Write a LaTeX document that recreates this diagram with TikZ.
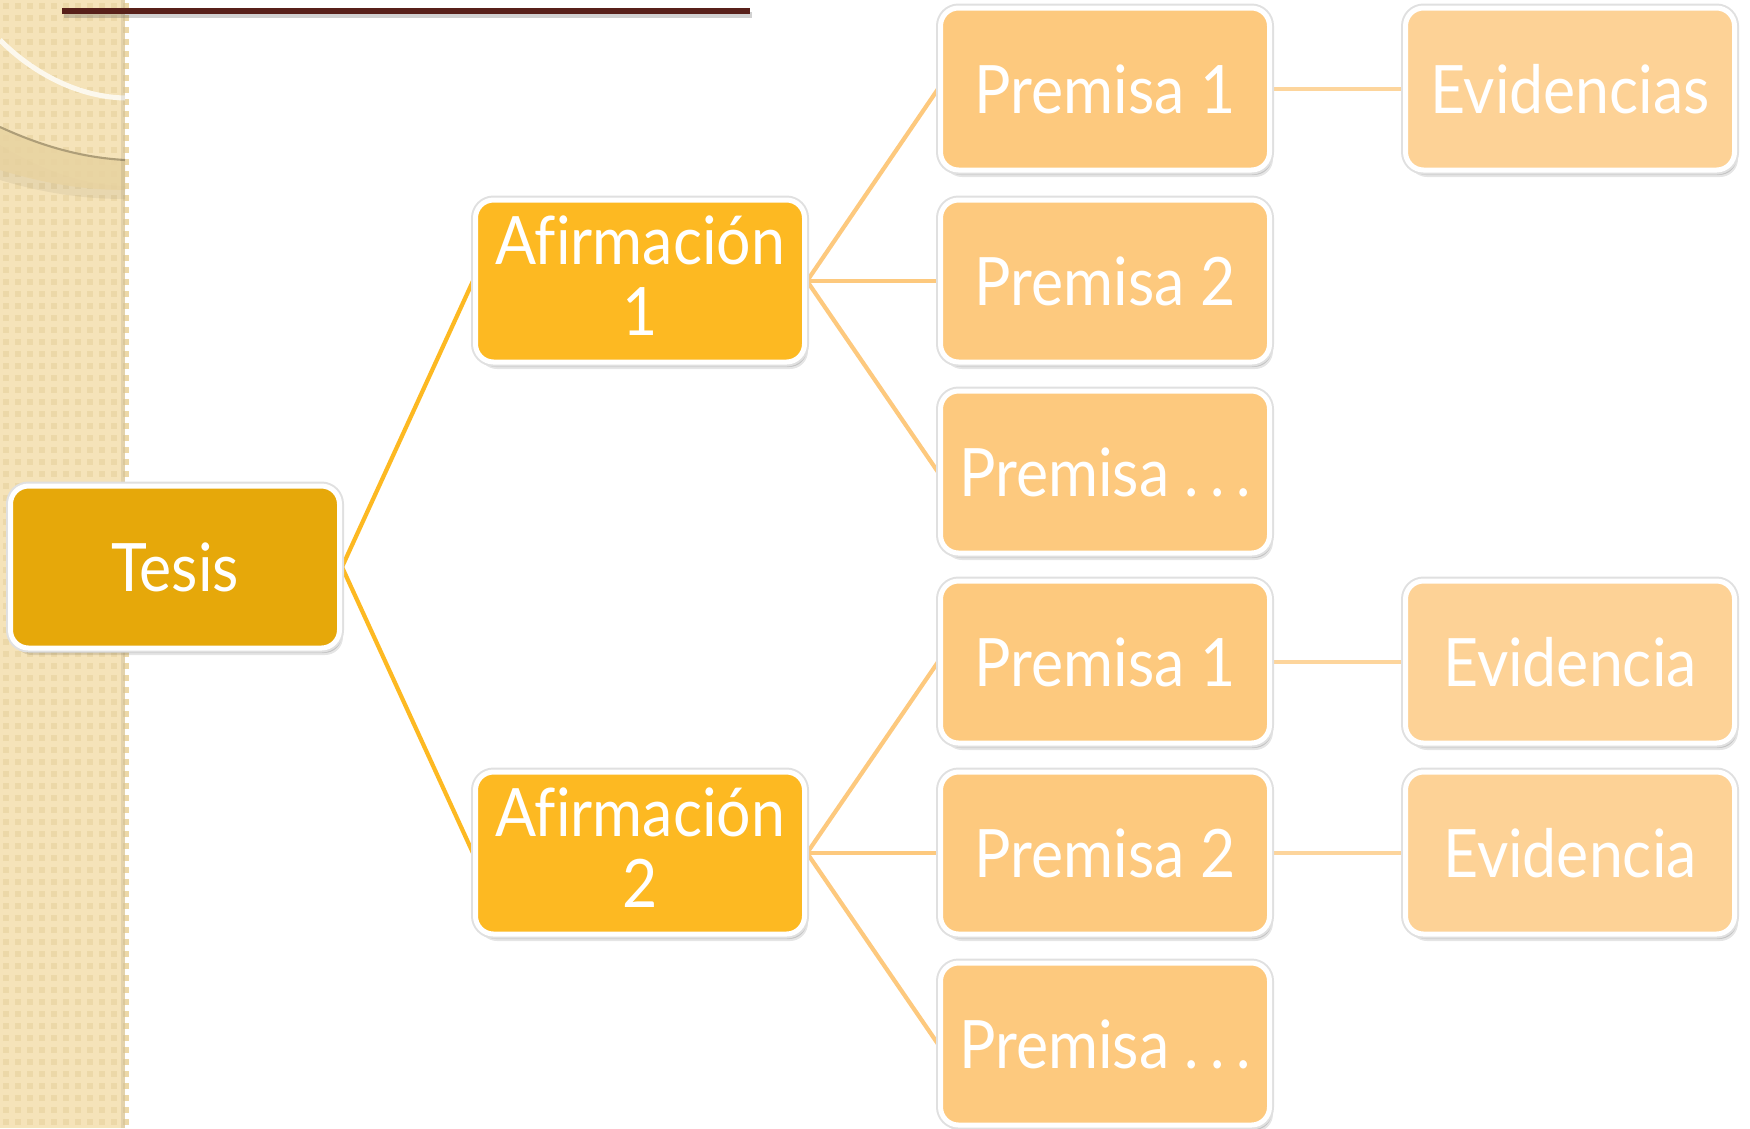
\documentclass[tikz,border=0pt]{standalone}
\usepackage{fontspec}
\newfontfamily\boxfont[FakeStretch=0.91,Ligatures=NoCommon]{Lato}
\usepackage{tikz}
\usepackage{xcolor}
\usetikzlibrary{shadows,backgrounds}

\definecolor{tesiscol}{HTML}{E6A80A}
\definecolor{afircol}{HTML}{FDB922}
\definecolor{premcol}{HTML}{FDC97E}
\definecolor{evidcol}{HTML}{FDD296}
\definecolor{evidline}{HTML}{FDD59C}
\definecolor{stripcol}{HTML}{F5E3B9}
\definecolor{stripdot}{HTML}{ECD8A8}
\definecolor{bandcol}{HTML}{E8D3A0}
\definecolor{titlebrown}{HTML}{58201A}

\begin{document}
\begin{tikzpicture}[
	box/.style={draw=white,line width=0.05cm,rounded corners=0.18cm,minimum width=3.29cm,
		minimum height=1.62cm,inner sep=0pt,align=center,text=white,
		font=\boxfont\fontsize{19}{20}\selectfont,
		drop shadow={shadow xshift=0.035cm,shadow yshift=-0.07cm,opacity=0.10,fill=black},
		drop shadow={shadow xshift=0.025cm,shadow yshift=-0.05cm,opacity=0.15,fill=black},
		drop shadow={shadow xshift=0.015cm,shadow yshift=-0.03cm,opacity=0.20,fill=black},
		preaction={draw=black!12,line width=0.09cm}},
	tesisline/.style={draw=afircol,line width=1.2pt},
	premline/.style={draw=premcol,line width=1.2pt},
	evline/.style={draw=evidline,line width=1.2pt}]
\useasboundingbox (0,0) rectangle (17.5,-11.28);
% textured strip on the left
\fill[stripcol] (0,0) rectangle (1.25,-11.28);
\foreach\i in {0,...,10}{
	\foreach\j in {0,...,93}{
		\fill[stripdot] (\i*0.12+0.03,-\j*0.12-0.03) rectangle ++(0.06,-0.06);
	}
}
\begin{scope}
\clip (0,0) rectangle (1.25,-11.28);
\fill[black,opacity=0.05] (0,-1.45) .. controls (0.5,-1.75) and (0.9,-1.85) .. (1.25,-1.86)
	-- (1.25,-1.99) .. controls (0.8,-1.99) and (0.4,-1.92) .. (0,-1.80) -- cycle;
\fill[bandcol,opacity=0.85] (0,-1.27) .. controls (0.5,-1.50) and (0.9,-1.58) .. (1.25,-1.60)
	-- (1.25,-1.90) .. controls (0.8,-1.90) and (0.4,-1.82) .. (0,-1.70) -- cycle;
\draw[black!25!bandcol,line width=0.6pt] (0,-1.27) .. controls (0.5,-1.50) and (0.9,-1.58) .. (1.25,-1.60);
\draw[white!75!stripcol,line width=0.05cm] (0,-0.40) .. controls (0.35,-0.75) and (0.8,-0.97) .. (1.25,-0.98);
\end{scope}
\fill[black,opacity=0.07] (1.21,0) rectangle (1.25,-11.28);
% title rule
\fill[titlebrown,drop shadow={shadow xshift=0.02cm,shadow yshift=-0.04cm,opacity=0.3,fill=black!60}] (0.62,-0.08) rectangle (7.50,-0.14);

\node[box,fill=tesiscol] (tesis) at (1.75,-5.67){Tesis};
\node[box,fill=afircol] (af1) at (6.40,-2.81){Afirmación\\1\rule[-3pt]{0pt}{0pt}};
\node[box,fill=afircol] (af2) at (6.40,-8.53){Afirmación\\2\rule[-3pt]{0pt}{0pt}};
\foreach\n/\y/\t in {p1/-0.89/Premisa 1,p2/-2.81/Premisa 2,p3/-4.72/Premisa .\kern0.17em.\kern0.17em.,
	q1/-6.62/Premisa 1,q2/-8.53/Premisa 2,q3/-10.44/Premisa .\kern0.17em.\kern0.17em.}{
	\node[box,fill=premcol] (\n) at (11.05,\y){\t};
}
\node[box,fill=evidcol] (e1) at (15.70,-0.89){Evidencias};
\node[box,fill=evidcol] (e2) at (15.70,-6.62){Evidencia};
\node[box,fill=evidcol] (e3) at (15.70,-8.53){Evidencia};

\begin{scope}[on background layer]
\draw[tesisline] (tesis.east)--(af1.west);
\draw[tesisline] (tesis.east)--(af2.west);
\foreach\a/\p in {af1/p1,af1/p2,af1/p3,af2/q1,af2/q2,af2/q3}{
	\draw[premline] (\a.east)--(\p.west);
}
\draw[evline] (p1.east)--(e1.west);
\draw[evline] (q1.east)--(e2.west);
\draw[evline] (q2.east)--(e3.west);
\end{scope}
\end{tikzpicture}
\end{document}
